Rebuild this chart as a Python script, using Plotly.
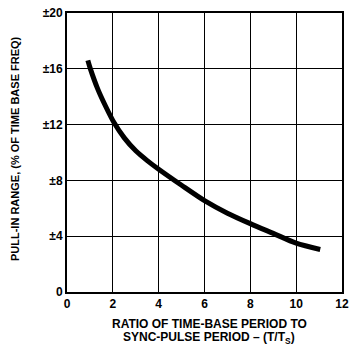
import plotly.graph_objects as go

ratio = [0.91, 1.01, 1.33, 1.69, 2.05, 2.5, 3.0, 3.5, 4.0, 5.0, 6.0, 7.0, 8.0, 9.0, 10.0, 11.05]
pull_in = [16.6, 16.05, 14.6, 13.3, 12.15, 11.05, 10.12, 9.42, 8.8, 7.65, 6.55, 5.65, 4.9, 4.2, 3.5, 3.05]

x_ticks = [0, 2, 4, 6, 8, 10, 12]
x_labels = ["0", "2", "4", "6", "8", "10", "12"]
y_ticks = [0, 4, 8, 12, 16, 20]
y_labels = ["0", "±4", "±8", "±12", "±16", "±20"]

x_title_1 = "RATIO OF TIME-BASE PERIOD TO"
x_title_2 = "SYNC-PULSE PERIOD – (T/T<sub>S</sub>)"
y_title = "PULL-IN RANGE, (% OF TIME BASE FREQ)"

font_family = "Liberation Sans, Arial, sans-serif"

fig = go.Figure()
fig.add_trace(go.Scatter(
    x=ratio, y=pull_in, mode="lines",
    line=dict(color="black", width=5, shape="spline", smoothing=0.8),
    showlegend=False, hoverinfo="skip",
))

fig.update_layout(
    width=354, height=346,
    margin=dict(l=67, r=5, t=13, b=54),
    paper_bgcolor="white", plot_bgcolor="white",
    font=dict(family=font_family, color="black", size=12),
    xaxis=dict(
        range=[0, 12], tickvals=x_ticks, ticktext=x_labels,
        showgrid=True, gridcolor="black", gridwidth=1,
        showline=True, linecolor="black", linewidth=2, mirror=True,
        zeroline=False, ticks="", ticklen=0,
        tickfont=dict(size=12, family=font_family, weight="bold"),
    ),
    yaxis=dict(
        range=[0, 20], tickvals=y_ticks, ticktext=y_labels,
        showgrid=True, gridcolor="black", gridwidth=1,
        showline=True, linecolor="black", linewidth=2, mirror=True,
        zeroline=False, ticks="", ticklen=0,
        tickfont=dict(size=12, family=font_family, weight="bold"),
    ),
    annotations=[
        dict(text=x_title_1, xref="paper", yref="paper", x=0.518, y=0,
             xanchor="center", yanchor="middle", yshift=-32, showarrow=False,
             font=dict(size=12, family=font_family, weight="bold")),
        dict(text=x_title_2, xref="paper", yref="paper", x=0.518, y=0,
             xanchor="center", yanchor="middle", yshift=-46, showarrow=False,
             font=dict(size=12, family=font_family, weight="bold")),
        dict(text=y_title, xref="paper", yref="paper", x=0, y=0.5125,
             xanchor="center", yanchor="middle", xshift=-52, textangle=-90,
             showarrow=False,
             font=dict(size=11, family=font_family, weight="bold")),
    ],
)

fig.write_html(
    "out.html",
    config={"displayModeBar": False, "staticPlot": True},
    post_script="document.body.style.margin='0';document.body.style.overflow='hidden';",
)
